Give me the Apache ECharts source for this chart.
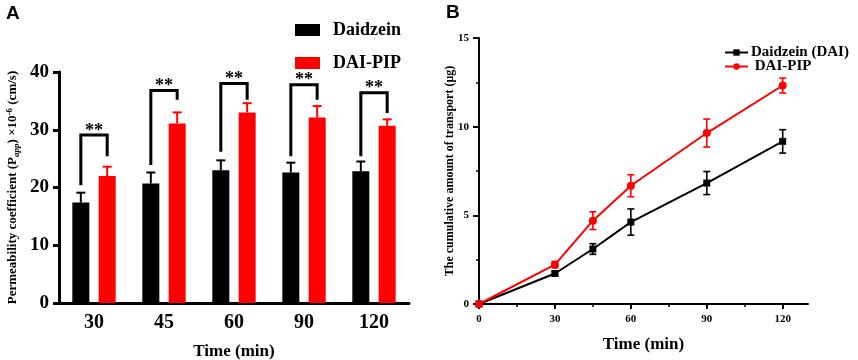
<!DOCTYPE html>
<html>
<head>
<meta charset="utf-8">
<script src="https://cdn.jsdelivr.net/npm/echarts@6/dist/echarts.min.js"></script>
<style>html,body{margin:0;padding:0;background:#fff}#c{width:858px;height:360px}</style>
</head>
<body>
<div id="c"></div>
<script>
// ---------- Panel A data ----------
const categoriesA = ['30', '45', '60', '90', '120'];
const daidzeinPapp = [17.4, 20.7, 23.0, 22.6, 22.8];
const daidzeinPappErr = [1.7, 1.9, 1.7, 1.7, 1.7];
const daiPipPapp = [22.0, 31.1, 33.0, 32.1, 30.7];
const daiPipPappErr = [1.6, 1.9, 1.6, 2.0, 1.1];
const bracketTop = [29.1, 36.8, 38.0, 37.8, 36.4];
const bracketLeftEnd = [20.4, 23.9, 26.2, 25.4, 25.4];
const bracketRightEnd = [25.4, 35.2, 35.2, 35.2, 32.9];
const sigLabels = ['**', '**', '**', '**', '**'];
const yTicksA = [0, 10, 20, 30, 40];

// ---------- Panel B data ----------
const timeB = [0, 30, 45, 60, 90, 120];
const daiCumulative = [0, 1.72, 3.1, 4.62, 6.82, 9.17];
const daiCumulativeErr = [0, 0.1, 0.3, 0.74, 0.65, 0.66];
const pipCumulative = [0, 2.22, 4.7, 6.67, 9.64, 12.32];
const pipCumulativeErr = [0, 0.18, 0.5, 0.62, 0.79, 0.42];
const xTicksB = [0, 30, 60, 90, 120];
const xMinorTicksB = [15, 45, 75, 105];
const yMinorTicksB = [2.5, 7.5, 12.5];

const SERIF = 'Liberation Serif';
const BAR_W = 17;
const BAR_GAP = 0.55;
const OFF = (BAR_W + BAR_W * BAR_GAP) / 2;

const chart = echarts.init(document.getElementById('c'), null, {renderer: 'canvas'});

function errA(offset, color) {
  return function (params, api) {
    const idx = api.value(0), v = api.value(1), e = api.value(2);
    const p = api.coord([idx, v]);
    const t = api.coord([idx, v + e]);
    const x = p[0] + offset;
    return {
      type: 'group',
      children: [
        {type: 'line', shape: {x1: x, y1: p[1], x2: x, y2: t[1]}, style: {stroke: color, lineWidth: 2}},
        {type: 'line', shape: {x1: x - 4.5, y1: t[1], x2: x + 4.5, y2: t[1]}, style: {stroke: color, lineWidth: 2}}
      ]
    };
  };
}

function errB(color) {
  return function (params, api) {
    const t = api.value(0), v = api.value(1), e = api.value(2);
    if (!e) return null;
    const a = api.coord([t, v - e]);
    const b = api.coord([t, v + e]);
    const x = a[0];
    const st = {stroke: color, lineWidth: 1.6};
    return {
      type: 'group',
      children: [
        {type: 'line', shape: {x1: x, y1: a[1], x2: x, y2: b[1]}, style: st},
        {type: 'line', shape: {x1: x - 3.5, y1: a[1], x2: x + 3.5, y2: a[1]}, style: st},
        {type: 'line', shape: {x1: x - 3.5, y1: b[1], x2: x + 3.5, y2: b[1]}, style: st}
      ]
    };
  };
}

const option = {
  animation: false,
  backgroundColor: '#fff',
  textStyle: {fontFamily: SERIF},
  graphic: [
    {type: 'text', left: 6, top: 4, style: {text: 'A', font: 'bold 19px "Liberation Sans"', fill: '#000'}},
    {type: 'text', left: 446, top: 3, style: {text: 'B', font: 'bold 19px "Liberation Sans"', fill: '#000'}}
  ],
  legend: [
    {
      data: ['Daidzein', 'DAI-PIP'],
      orient: 'vertical',
      left: 295, top: 21, padding: 0,
      icon: 'rect',
      itemWidth: 25, itemHeight: 12,
      itemGap: 15,
      textStyle: {fontFamily: SERIF, fontWeight: 'bold', fontSize: 18, color: '#000', padding: [0, 0, 0, 8]}
    },
    {
      data: ['Daidzein (DAI)', ' DAI-PIP'],
      orient: 'vertical',
      left: 724, top: 45, padding: 0,
      itemWidth: 23, itemHeight: 8,
      itemGap: -1,
      textStyle: {fontFamily: SERIF, fontWeight: 'bold', fontSize: 15, color: '#000', padding: [0, 0, 0, -2]}
    }
  ],
  grid: [
    {left: 59, top: 72, width: 350, height: 231, containLabel: false, outerBoundsMode: 'none'},
    {left: 479, top: 38, width: 329, height: 266, containLabel: false, outerBoundsMode: 'none'}
  ],
  xAxis: [
    {
      type: 'category', gridIndex: 0, data: categoriesA, position: 'bottom',
      axisLine: {lineStyle: {color: '#000', width: 3}},
      axisTick: {alignWithLabel: true, length: 6, lineStyle: {color: '#000', width: 3}},
      axisLabel: {color: '#000', fontFamily: SERIF, fontWeight: 'bold', fontSize: 20, margin: 10},
      name: 'Time (min)', nameLocation: 'middle', nameGap: 40,
      nameTextStyle: {color: '#000', fontFamily: SERIF, fontWeight: 'bold', fontSize: 17}
    },
    {
      type: 'value', gridIndex: 1, min: 0, max: 130, interval: 30, position: 'bottom',
      splitLine: {show: false},
      axisLine: {onZero: false, lineStyle: {color: '#000', width: 2}},
      axisTick: {customValues: xTicksB, length: 5, lineStyle: {color: '#000', width: 2}},
      axisLabel: {customValues: xTicksB, color: '#000', fontFamily: SERIF, fontWeight: 'bold', fontSize: 11, margin: 10},
      name: 'Time (min)', nameLocation: 'middle', nameGap: 32,
      nameTextStyle: {color: '#000', fontFamily: SERIF, fontWeight: 'bold', fontSize: 17}
    },
    {
      type: 'value', gridIndex: 1, min: 0, max: 130, position: 'bottom',
      splitLine: {show: false},
      axisLine: {show: false},
      axisLabel: {show: false},
      axisTick: {customValues: xMinorTicksB, length: 3, lineStyle: {color: '#000', width: 1.5}}
    }
  ],
  yAxis: [
    {
      type: 'value', gridIndex: 0, min: 0, max: 40, interval: 10, position: 'left',
      splitLine: {show: false},
      axisLine: {show: true, lineStyle: {color: '#000', width: 3}},
      axisTick: {show: true, length: 6, lineStyle: {color: '#000', width: 3}},
      axisLabel: {color: '#000', fontFamily: SERIF, fontWeight: 'bold', fontSize: 19, margin: 10},
      name: '{t|Permeability coefficient (P}{sub|app}{t|) ×10}{sup|-6}{t| (cm/s)}',
      nameLocation: 'middle', nameRotate: 90, nameGap: 38,
      nameTextStyle: {
        color: '#000',
        rich: {
          t: {fontFamily: SERIF, fontWeight: 'bold', fontSize: 13, color: '#000', lineHeight: 16},
          sub: {fontFamily: SERIF, fontWeight: 'bold', fontStyle: 'italic', fontSize: 9, color: '#000', verticalAlign: 'bottom', lineHeight: 16, padding: [5, 0, 0, 0]},
          sup: {fontFamily: SERIF, fontWeight: 'bold', fontSize: 9, color: '#000', verticalAlign: 'top', lineHeight: 16, padding: [0, 0, 5, 0]}
        }
      }
    },
    {
      type: 'value', gridIndex: 1, min: 0, max: 15, interval: 5, position: 'left',
      splitLine: {show: false},
      axisLine: {show: true, lineStyle: {color: '#000', width: 2}},
      axisTick: {show: true, length: 6, lineStyle: {color: '#000', width: 2}},
      axisLabel: {color: '#000', fontFamily: SERIF, fontWeight: 'bold', fontSize: 11, margin: 10},
      name: 'The cumulative amount of transport (μg)',
      nameLocation: 'middle', nameRotate: 90, nameGap: 23, nameMoveOverlap: false,
      nameTextStyle: {color: '#000', fontFamily: SERIF, fontWeight: 'bold', fontSize: 12}
    },
    {
      type: 'value', gridIndex: 1, min: 0, max: 15, position: 'left',
      splitLine: {show: false},
      axisLine: {show: false},
      axisLabel: {show: false},
      axisTick: {show: true, customValues: yMinorTicksB, length: 3, lineStyle: {color: '#000', width: 1.5}}
    }
  ],
  series: [
    {
      name: 'Daidzein', type: 'bar', xAxisIndex: 0, yAxisIndex: 0,
      data: daidzeinPapp, barWidth: BAR_W, barGap: (BAR_GAP * 100) + '%',
      itemStyle: {color: '#000'}
    },
    {
      name: 'DAI-PIP', type: 'bar', xAxisIndex: 0, yAxisIndex: 0,
      data: daiPipPapp, barWidth: BAR_W, barGap: (BAR_GAP * 100) + '%',
      itemStyle: {color: '#ff0000'}
    },
    {
      type: 'custom', xAxisIndex: 0, yAxisIndex: 0, silent: true, z: 3,
      renderItem: errA(-OFF, '#000'),
      data: daidzeinPapp.map((v, i) => [i, v, daidzeinPappErr[i]])
    },
    {
      type: 'custom', xAxisIndex: 0, yAxisIndex: 0, silent: true, z: 3,
      renderItem: errA(OFF, '#ff0000'),
      data: daiPipPapp.map((v, i) => [i, v, daiPipPappErr[i]])
    },
    {
      type: 'custom', xAxisIndex: 0, yAxisIndex: 0, silent: true, z: 4,
      renderItem: function (params, api) {
        const idx = api.value(0);
        const top = api.coord([idx, api.value(1)]);
        const l = api.coord([idx, api.value(2)]);
        const r = api.coord([idx, api.value(3)]);
        const xl = top[0] - OFF, xr = top[0] + OFF;
        return {
          type: 'group',
          children: [
            {type: 'polyline', shape: {points: [[xl, l[1]], [xl, top[1]], [xr, top[1]], [xr, r[1]]]},
             style: {stroke: '#000', lineWidth: 3, fill: null, lineJoin: 'miter'}},
            {type: 'text', x: top[0], y: top[1] - 4,
             style: {text: sigLabels[params.dataIndex], font: 'bold 18px "Liberation Serif"', fill: '#000', align: 'center', verticalAlign: 'middle'}}
          ]
        };
      },
      data: bracketTop.map((v, i) => [i, v, bracketLeftEnd[i], bracketRightEnd[i]])
    },
    {
      name: 'Daidzein (DAI)', type: 'line', xAxisIndex: 1, yAxisIndex: 1,
      data: timeB.map((t, i) => [t, daiCumulative[i]]),
      symbol: 'rect', symbolSize: 7,
      lineStyle: {color: '#000', width: 2}, itemStyle: {color: '#000'}, z: 3
    },
    {
      name: ' DAI-PIP', type: 'line', xAxisIndex: 1, yAxisIndex: 1,
      data: timeB.map((t, i) => [t, pipCumulative[i]]),
      symbol: 'circle', symbolSize: 8,
      lineStyle: {color: '#ff0000', width: 2}, itemStyle: {color: '#ff0000'}, z: 3
    },
    {
      type: 'custom', xAxisIndex: 1, yAxisIndex: 1, silent: true, z: 2,
      renderItem: errB('#000'),
      data: timeB.map((t, i) => [t, daiCumulative[i], daiCumulativeErr[i]])
    },
    {
      type: 'custom', xAxisIndex: 1, yAxisIndex: 1, silent: true, z: 2,
      renderItem: errB('#ff0000'),
      data: timeB.map((t, i) => [t, pipCumulative[i], pipCumulativeErr[i]])
    }
  ]
};
chart.setOption(option);
</script>
</body>
</html>
